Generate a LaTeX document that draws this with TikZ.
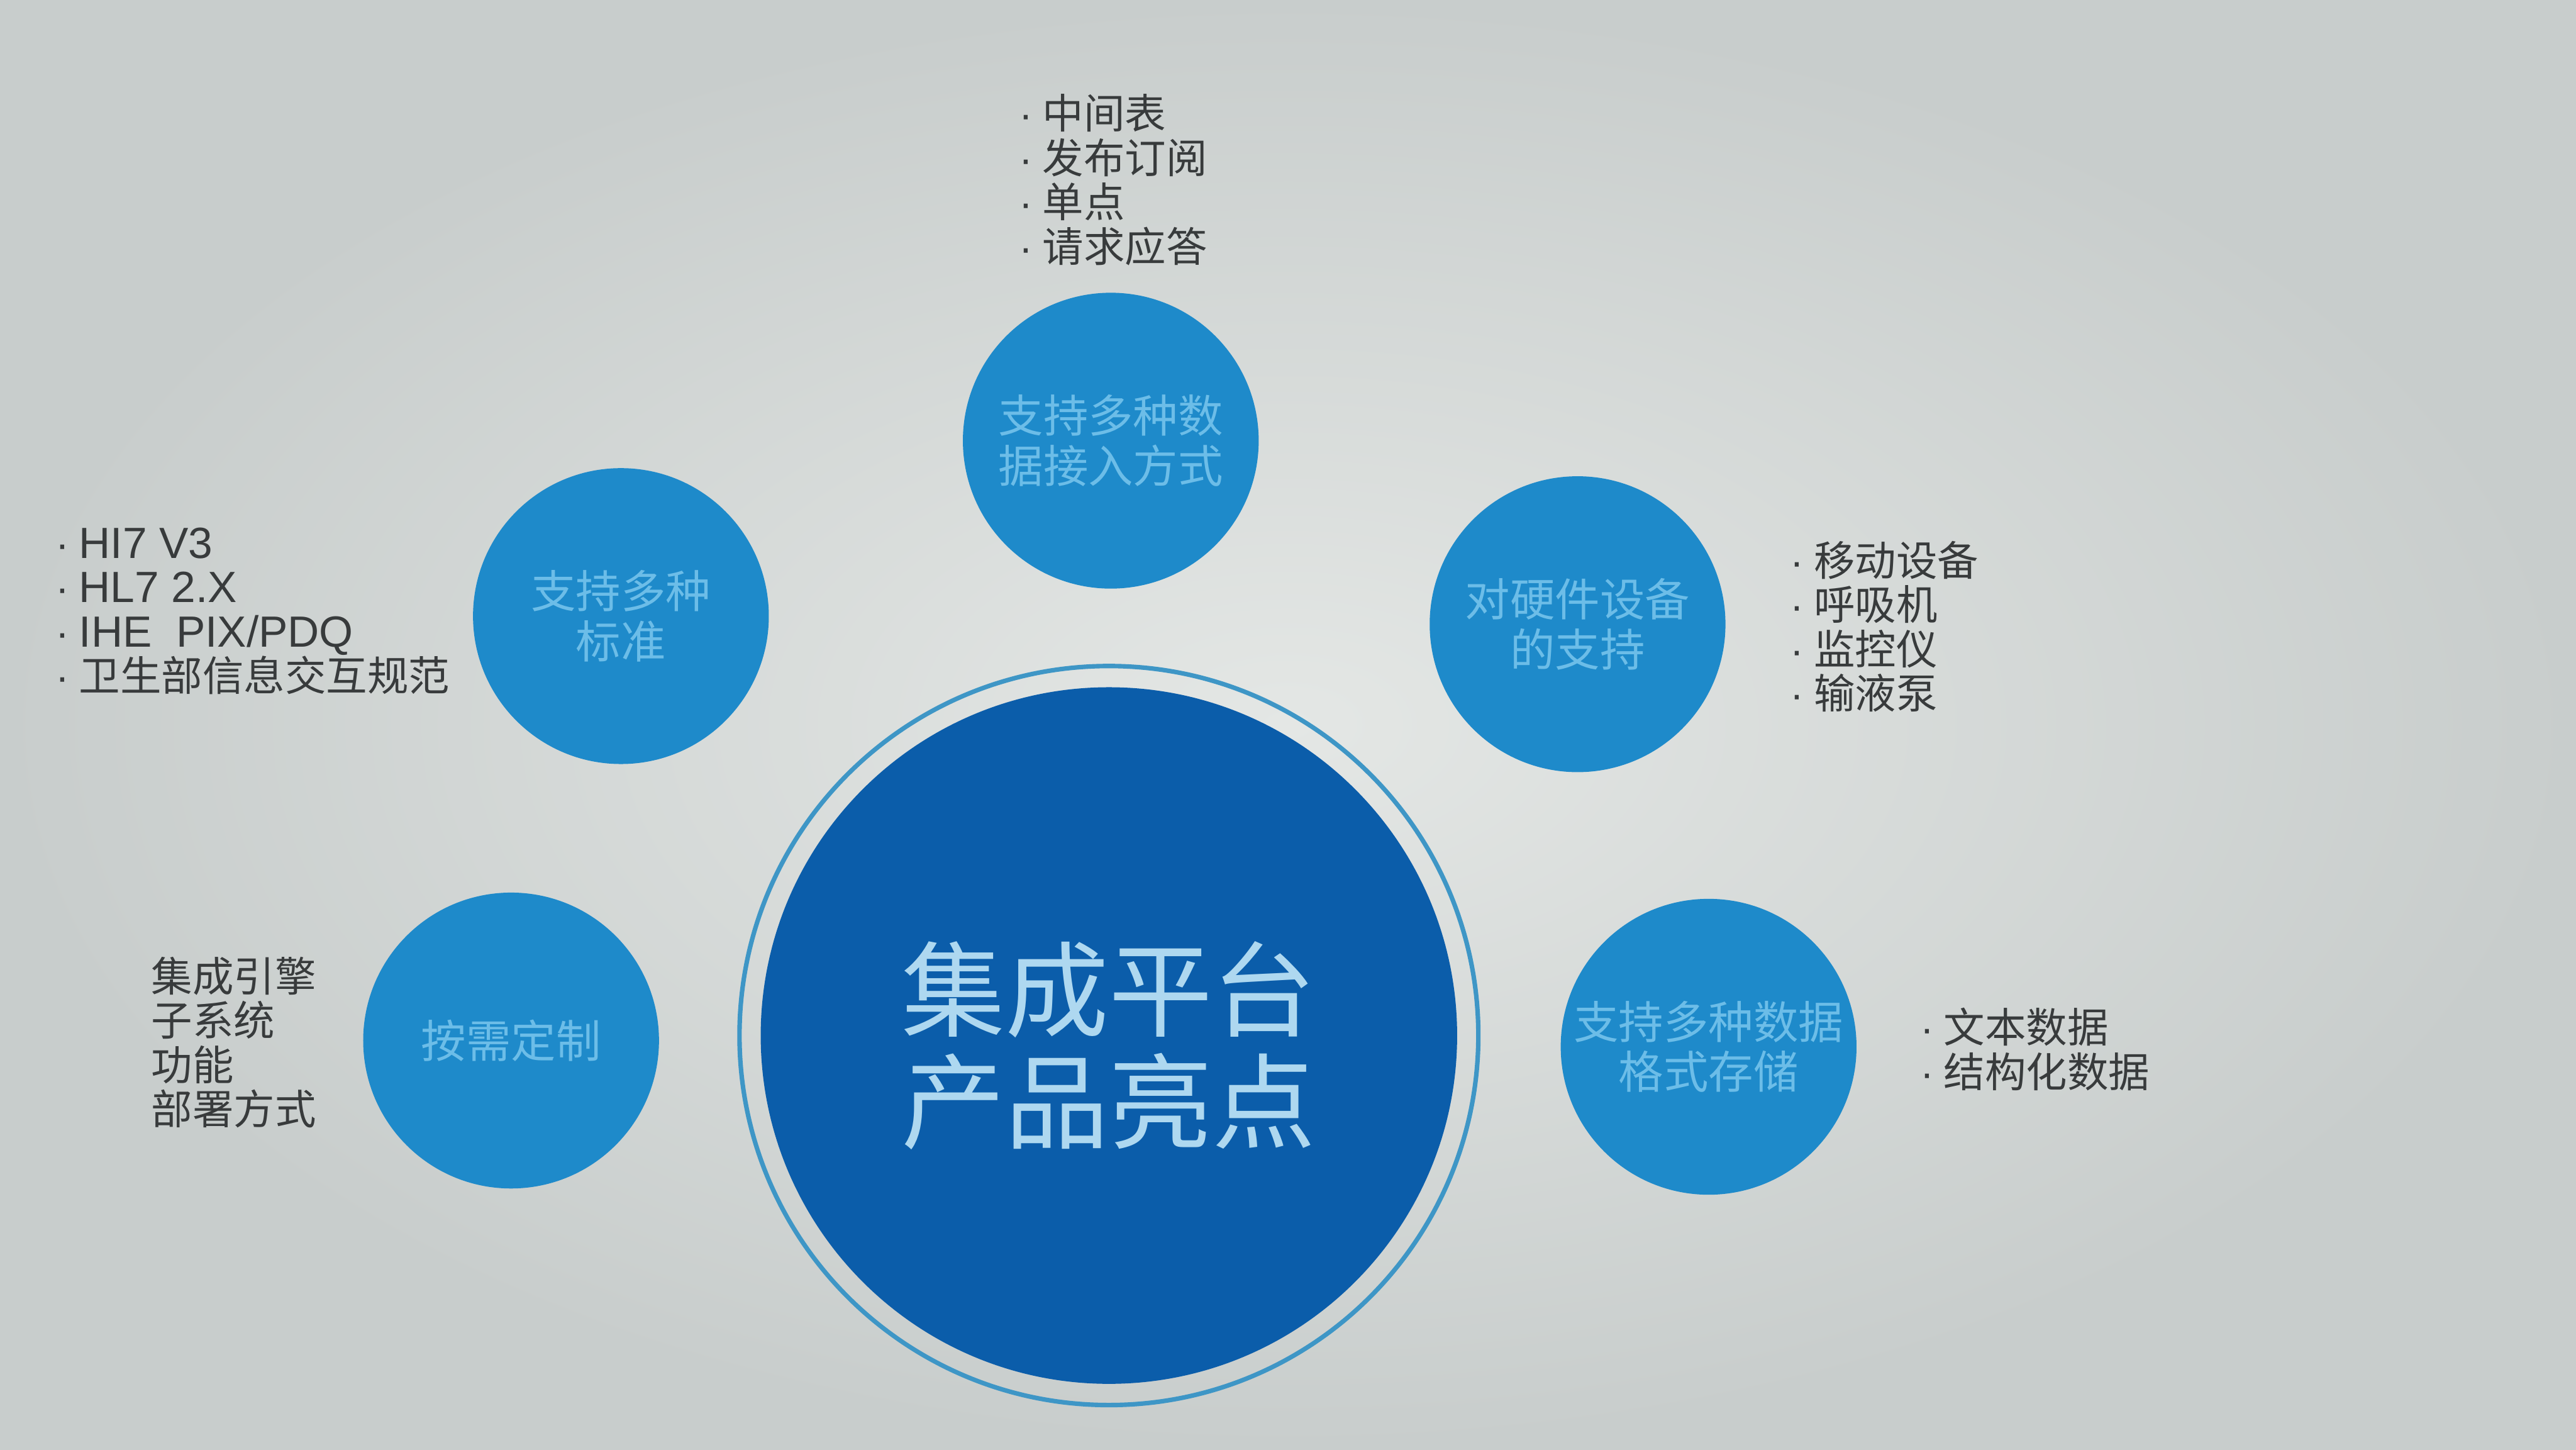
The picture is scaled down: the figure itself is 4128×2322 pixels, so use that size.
\documentclass[tikz,border=0pt]{standalone}
\usepackage{fontspec}
\setmainfont{Noto Sans CJK SC}
\newfontfamily\bulletfont{Liberation Sans}
\newfontfamily\latinfont{Liberation Sans}
\definecolor{bginner}{HTML}{E4E7E5}
\definecolor{bgouter}{HTML}{C8CDCC}
\definecolor{smallblue}{HTML}{1E8ACA}
\definecolor{smalltext}{HTML}{6CBDE8}
\definecolor{bigblue}{HTML}{0B5DAA}
\definecolor{bigtext}{HTML}{AED8F0}
\definecolor{ringblue}{HTML}{3E96C6}
\definecolor{labelgrey}{HTML}{383B3C}
\newcommand\bitem[1]{\makebox[9.5pt][l]{\bulletfont ·}#1}
\begin{document}
\begin{tikzpicture}[x=0.25pt,y=-0.25pt,
  feat/.style={circle, fill=smallblue, minimum size=118.5pt, inner sep=0pt,
    text=smalltext, align=center, font=\fontsize{18}{20}\selectfont},
  hub/.style={circle, fill=bigblue, minimum size=279pt, inner sep=0pt},
  hubring/.style={circle, draw=ringblue, line width=1.8pt, minimum size=296pt, inner sep=0pt},
  hubtext/.style={text=bigtext, align=center, font=\fontsize{41.5}{45}\selectfont, inner sep=0pt},
  list/.style={anchor=west, align=left, text=labelgrey, inner sep=0pt,
    font=\fontsize{16.5}{17.75}\selectfont}]
\useasboundingbox (0,0) rectangle (4128,2322);
\shade[inner color=bginner, outer color=bgouter] (0,0) rectangle (4128,2322);

% central hub
\node[hubring] (ring) at (1777,1659) {};
\node[hub] (hub) at (1777,1659) {};
\node[hubtext] (hubtxt) at (1777,1675) {集成平台\\产品亮点};

% feature circles
\node[feat] (top) at (1780,706) {支持多种数\\据接入方式};
\node[feat] (lu) at (995,987) {支持多种\\标准};
\node[feat] (ru) at (2528,1000) {对硬件设备\\的支持};
\node[feat] (ll) at (819,1667) {按需定制};
\node[feat] (rl) at (2738,1677) {支持多种数据\\格式存储};

% labels
\node[list] (toplist) at (1632,288) {\bitem{中间表}\\\bitem{发布订阅}\\\bitem{单点}\\\bitem{请求应答}};
\node[list] (lulist) at (88,979) {\bitem{{\latinfont\fontsize{17.5}{17.75}\selectfont HI7 V3}}\\\bitem{{\latinfont\fontsize{17.5}{17.75}\selectfont HL7 2.X}}\\\bitem{{\latinfont\fontsize{17.5}{17.75}\selectfont IHE\ \ PIX/PDQ}}\\\bitem{卫生部信息交互规范}};
\node[list] (rulist) at (2868,1004) {\bitem{移动设备}\\\bitem{呼吸机}\\\bitem{监控仪}\\\bitem{输液泵}};
\node[list] (lllist) at (242,1670) {集成引擎\\子系统\\功能\\部署方式};
\node[list] (rllist) at (3076,1681) {\bitem{文本数据}\\\bitem{结构化数据}};
\end{tikzpicture}
\end{document}
